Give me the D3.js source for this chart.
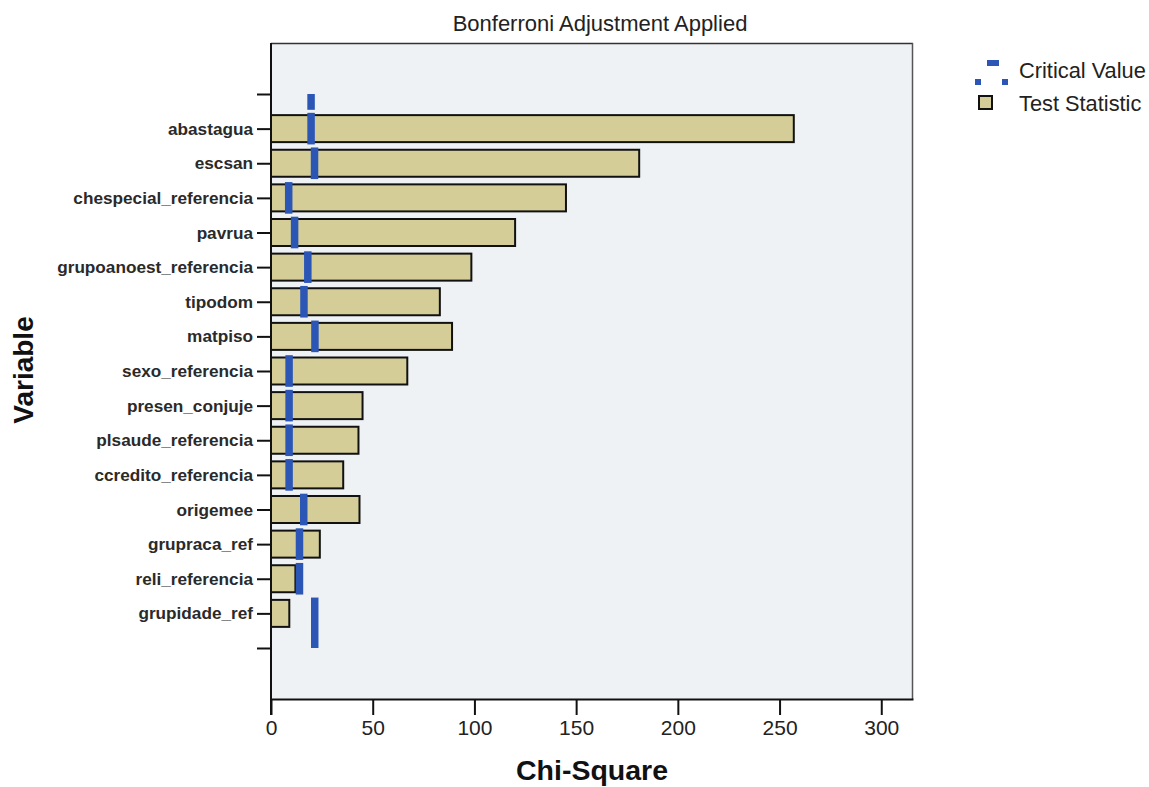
<!DOCTYPE html>
<html>
<head>
<meta charset="utf-8">
<script src="https://cdn.jsdelivr.net/npm/d3@7"></script>
<style>
  html, body { margin: 0; padding: 0; background: #ffffff; }
  svg { display: block; font-family: Arial, "Liberation Sans", sans-serif; }
</style>
</head>
<body>
<svg id="chart" width="1149" height="787"></svg>
<script>
// ---- data ----
const categories = [
  "abastagua", "escsan", "chespecial_referencia", "pavrua",
  "grupoanoest_referencia", "tipodom", "matpiso", "sexo_referencia",
  "presen_conjuje", "plsaude_referencia", "ccredito_referencia",
  "origemee", "grupraca_ref", "reli_referencia", "grupidade_ref"
];
const testStatistic = [257, 181, 145, 120, 98.5, 83, 89, 67, 45, 43, 35.5, 43.5, 24, 12, 9];
const criticalValue = [19.7, 21.4, 8.7, 11.6, 18.1, 16.2, 21.6, 8.9, 8.9, 8.9, 8.9, 16.1, 14.0, 14.0, 21.5];
const xTicks = [0, 50, 100, 150, 200, 250, 300];
const chartTitle = "Bonferroni Adjustment Applied";
const xTitle = "Chi-Square";
const yTitle = "Variable";
const legendLabels = ["Critical Value", "Test Statistic"];

// ---- layout ----
const svg = d3.select("#chart");
const plot = { left: 271, right: 913, top: 43, bottom: 699 };
const barColor = "#d4cd98";
const lineColor = "#2b56b6";

// y slots: empty slot above and below the variables
const slots = ["__top"].concat(categories, ["__bottom"]);
const y = d3.scalePoint().domain(slots).range([plot.top, plot.bottom]).padding(1.473);
const step = y.step();
const x = d3.scaleLinear().domain([0, 315.6]).range([plot.left, plot.right]);

// plot background + frame
svg.append("rect")
  .attr("x", plot.left).attr("y", plot.top)
  .attr("width", plot.right - plot.left).attr("height", plot.bottom - plot.top)
  .attr("fill", "#eff2f4");
svg.append("line")
  .attr("x1", plot.left).attr("x2", plot.right)
  .attr("y1", plot.top + 0.5).attr("y2", plot.top + 0.5)
  .attr("stroke", "#333").attr("stroke-width", 1.5);
svg.append("line")
  .attr("x1", plot.right - 0.5).attr("x2", plot.right - 0.5)
  .attr("y1", plot.top).attr("y2", plot.bottom)
  .attr("stroke", "#555").attr("stroke-width", 1.5);

// bars
const data = categories.map((c, i) => ({ cat: c, stat: testStatistic[i], crit: criticalValue[i] }));
const barH = step * 0.78;
svg.append("g").selectAll("rect").data(data).enter().append("rect")
  .attr("x", x(0))
  .attr("y", d => y(d.cat) - barH / 2)
  .attr("width", d => x(d.stat) - x(0))
  .attr("height", barH)
  .attr("fill", barColor)
  .attr("stroke", "#111")
  .attr("stroke-width", 2);

// critical value segments (step style, one per variable)
const half = step / 2 - 1.5;
const segs = data.map((d, i) => ({
  v: d.crit,
  y1: y(d.cat) - half,
  y2: i === data.length - 1 ? y("__bottom") : y(d.cat) + half
}));
// extend first value up to the empty top slot
segs.push({ v: data[0].crit, y1: y("__top"), y2: y("__top") + half });
svg.append("g").selectAll("line").data(segs).enter().append("line")
  .attr("x1", d => x(d.v)).attr("x2", d => x(d.v))
  .attr("y1", d => d.y1).attr("y2", d => d.y2)
  .attr("stroke", lineColor)
  .attr("stroke-width", 7.5);

// x axis
const xAxis = d3.axisBottom(x).tickValues(xTicks).tickSize(16).tickSizeOuter(0).tickPadding(5);
const gx = svg.append("g").attr("transform", `translate(0,${plot.bottom})`).call(xAxis);
gx.select(".domain").attr("stroke", "#111").attr("stroke-width", 2);
gx.selectAll(".tick line").attr("stroke", "#111").attr("stroke-width", 2);
gx.selectAll(".tick text")
  .attr("font-size", 21).attr("fill", "#222")
  .attr("font-family", "Arial, 'Liberation Sans', sans-serif");

// y axis
const yAxis = d3.axisLeft(y).tickSize(14).tickSizeOuter(0).tickPadding(4)
  .tickFormat(d => d.startsWith("__") ? "" : d);
const gy = svg.append("g").attr("transform", `translate(${plot.left},0)`).call(yAxis);
gy.select(".domain").remove();
gy.selectAll(".tick line").attr("stroke", "#111").attr("stroke-width", 2);
gy.selectAll(".tick text")
  .attr("font-size", 17.2).attr("font-weight", "bold").attr("fill", "#2a2a2a")
  .attr("font-family", "Arial, 'Liberation Sans', sans-serif");
// left axis line (extends below as zero tick)
svg.append("line")
  .attr("x1", plot.left).attr("x2", plot.left)
  .attr("y1", plot.top).attr("y2", plot.bottom + 16)
  .attr("stroke", "#111").attr("stroke-width", 2);

// titles
svg.append("text")
  .attr("x", 600).attr("y", 31)
  .attr("text-anchor", "middle").attr("font-size", 22).attr("fill", "#222")
  .text(chartTitle);
svg.append("text")
  .attr("x", (plot.left + plot.right) / 2).attr("y", 780)
  .attr("text-anchor", "middle").attr("font-size", 28.5).attr("font-weight", "bold").attr("fill", "#111")
  .text(xTitle);
svg.append("text")
  .attr("transform", "translate(33,370) rotate(-90)")
  .attr("text-anchor", "middle").attr("font-size", 28).attr("font-weight", "bold").attr("fill", "#111")
  .text(yTitle);

// legend
const lg = svg.append("g");
lg.append("rect").attr("x", 987).attr("y", 60).attr("width", 12).attr("height", 6).attr("fill", lineColor);
lg.append("rect").attr("x", 975).attr("y", 79).attr("width", 6).attr("height", 6).attr("fill", lineColor);
lg.append("rect").attr("x", 1002).attr("y", 79).attr("width", 6).attr("height", 6).attr("fill", lineColor);
lg.append("rect").attr("x", 979).attr("y", 96).attr("width", 13).attr("height", 13)
  .attr("fill", barColor).attr("stroke", "#111").attr("stroke-width", 2);
lg.selectAll("text").data(legendLabels).enter().append("text")
  .attr("x", 1019).attr("y", (d, i) => 78 + i * 33)
  .attr("font-size", 21.8).attr("fill", "#222")
  .text(d => d);
</script>
</body>
</html>
